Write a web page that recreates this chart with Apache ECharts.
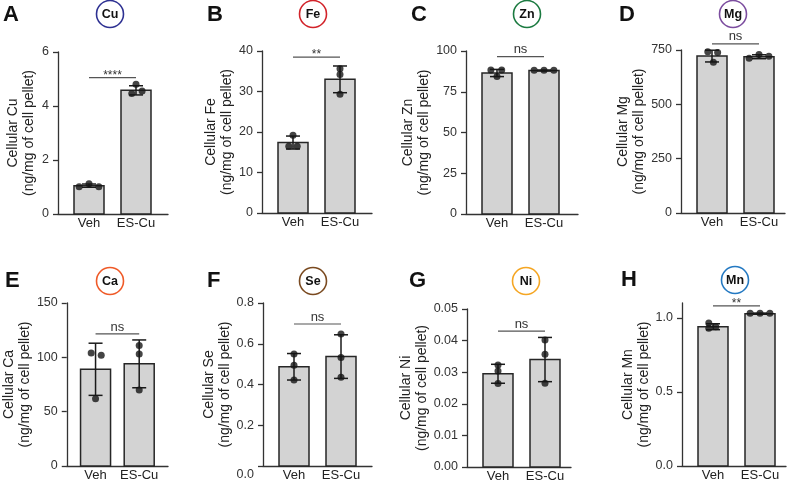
<!DOCTYPE html>
<html>
<head>
<meta charset="utf-8">
<script src="https://cdn.jsdelivr.net/npm/echarts@6/dist/echarts.min.js"></script>
<style>
  html, body { margin: 0; padding: 0; background: #fff; }
  #main { width: 791px; height: 485px; }
</style>
</head>
<body>
<div id="main"></div>
<script>
// groups and panels
var groups = ['Veh', 'ES-Cu'];
var panelLetters = ['A', 'B', 'C', 'D', 'E', 'F', 'G', 'H'];
var elements = ['Cu', 'Fe', 'Zn', 'Mg', 'Ca', 'Se', 'Ni', 'Mn'];
var elementColors = ['#2e3192', '#d2232a', '#1b7a40', '#7c4d9f', '#ef5a28', '#7a4a20', '#f5a623', '#2479c2'];

// mean per group
var meanVals = [
    [1.05, 4.58],
    [17.4, 33.0],
    [86.5, 88.0],
    [722, 719],
    [89, 94],
    [0.487, 0.537],
    [0.0295, 0.034],
    [0.94, 1.028]
];
// SD per group
var sdVals = [
    [0.06, 0.17],
    [1.6, 3.3],
    [2.2, 0.3],
    [27, 9],
    [24, 22],
    [0.065, 0.107],
    [0.003, 0.007],
    [0.02, 0.004]
];
// individual replicates
var dotVals = [
    [[1.01, 1.12, 1.01], [4.81, 4.46, 4.56]],
    [[19.2, 16.5, 16.5], [35.6, 34.2, 29.3]],
    [[88.3, 88.3, 84.4], [88.2, 88.2, 88.2]],
    [[742, 738, 694], [712, 729, 721]],
    [[104, 102, 62], [111, 103, 70]],
    [[0.55, 0.495, 0.422], [0.648, 0.532, 0.435]],
    [[0.0323, 0.0304, 0.0264], [0.0402, 0.0357, 0.0265]],
    [[0.965, 0.93, 0.94], [1.03, 1.03, 1.03]]
];
// horizontal spread of the replicates (category units)
var dotJitter = [
    [[-0.21, 0, 0.21], [0, -0.09, 0.13]],
    [[0, -0.09, 0.09], [0, 0, 0]],
    [[-0.13, 0.1, 0], [-0.21, 0, 0.21]],
    [[-0.09, 0.12, 0.03], [-0.21, 0, 0.21]],
    [[-0.1, 0.13, 0], [0, 0, 0]],
    [[0, 0, 0], [0, 0, 0]],
    [[0, 0, 0], [0, 0, 0]],
    [[-0.09, -0.09, 0.06], [-0.21, 0, 0.21]]
];
var sigLabels = ['****', '**', 'ns', 'ns', 'ns', 'ns', 'ns', '**'];
var sigLevels = [5.05, 38.5, 96.5, 778, 121.5, 0.697, 0.043, 1.08];

// y axes
var yMax = [6, 40, 100, 750, 150, 0.8, 0.05, 1.1];
var yStep = [2, 10, 25, 250, 50, 0.2, 0.01, 0.5];
var yDecimals = [0, 0, 0, 0, 0, 1, 2, 1];

var chartDom = document.getElementById('main');
var myChart = echarts.init(chartDom);
var FONT = 'Liberation Sans, Arial, Helvetica, sans-serif';

// layout of the 8 panels
var gridLeft = [58, 262, 466, 681, 59, 263, 467, 682];
var gridTop = [52, 51, 51, 50, 303, 303, 309, 303];
var gridHeight = [162, 162, 163, 163, 163, 163, 158, 163];
var gridWidth = [110, 110, 112, 104, 109, 109, 104, 104];
var nameGaps = [21, 22, 24, 29, 21, 23, 25, 30];
var letterPos = [[3, 14.5], [207, 14.5], [411, 14.5], [619, 14.5], [5, 281], [207, 281], [409, 281], [621, 280]];
var circlePos = [[110, 14], [313, 14], [527, 14], [733, 14], [110, 281], [313, 281], [526, 281], [735, 280]];
var BAND = 47; // px between the two bar centres
var FIRST = 31; // px from y axis to first bar centre

var grids = [], xAxes = [], yAxes = [], series = [], graphics = [];

function ticksFor(i) {
    var out = [];
    var n = Math.floor(yMax[i] / yStep[i] + 1e-9);
    for (var k = 0; k <= n; k++) out.push(Math.round(k * yStep[i] * 1e6) / 1e6);
    return out;
}

for (var i = 0; i < 8; i++) {
    grids.push({ left: gridLeft[i], top: gridTop[i], width: gridWidth[i], height: gridHeight[i] });
    var xMin = -FIRST / BAND;
    xAxes.push({
        type: 'value', gridIndex: i, min: xMin, max: xMin + gridWidth[i] / BAND,
        splitLine: { show: false },
        axisTick: { show: false },
        axisLine: { show: true, onZero: false, lineStyle: { color: '#333', width: 1.3 } },
        axisLabel: {
            customValues: [0, 1],
            formatter: function (v) { return groups[Math.round(v)]; },
            fontFamily: FONT, fontSize: 13, color: '#222', margin: 3
        }
    });
    var ticks = ticksFor(i);
    var dec = yDecimals[i];
    var isF = (i === 5);
    yAxes.push({
        type: 'value', gridIndex: i, min: 0, max: yMax[i],
        splitLine: { show: false },
        axisLine: { show: true, onZero: false, lineStyle: { color: '#333', width: 1.3 } },
        axisTick: { show: true, length: 5, customValues: ticks, lineStyle: { color: '#333', width: 1.3 } },
        axisLabel: {
            customValues: ticks,
            formatter: (function (d, f) {
                return function (v) {
                    var s = v.toFixed(d);
                    return (f && v === 0) ? '{low|' + s + '}' : s;
                };
            })(dec, isF),
            rich: { low: { padding: [18, 0, 0, 0], fontFamily: FONT, fontSize: 12.5, color: '#333' } },
            fontFamily: FONT, fontSize: 12.5, color: '#333', margin: 9
        },
        name: 'Cellular ' + elements[i] + '\n(ng/mg of cell pellet)',
        nameLocation: 'middle', nameRotate: 90, nameGap: nameGaps[i],
        nameTextStyle: { fontFamily: FONT, fontSize: 14, color: '#222', lineHeight: 16 }
    });

    // bars
    series.push({
        type: 'custom', xAxisIndex: i, yAxisIndex: i, z: 2,
        data: meanVals[i].map(function (m, g) { return [g, m]; }),
        renderItem: function (params, api) {
            var base = api.coord([api.value(0), 0]);
            var top = api.coord([api.value(0), api.value(1)]);
            return {
                type: 'rect',
                shape: { x: base[0] - 15, y: top[1], width: 30, height: base[1] - top[1] },
                style: { fill: '#d3d3d3', stroke: '#262626', lineWidth: 1.5 }
            };
        }
    });

    // error bars (mean +/- SD)
    series.push({
        type: 'custom', xAxisIndex: i, yAxisIndex: i, z: 3,
        data: meanVals[i].map(function (m, g) { return [g, m - sdVals[i][g], m + sdVals[i][g]]; }),
        renderItem: function (params, api) {
            var lo = api.coord([api.value(0), api.value(1)]);
            var hi = api.coord([api.value(0), api.value(2)]);
            var st = { stroke: '#1a1a1a', lineWidth: 1.5 };
            return {
                type: 'group',
                children: [
                    { type: 'line', shape: { x1: lo[0], y1: lo[1], x2: hi[0], y2: hi[1] }, style: st },
                    { type: 'line', shape: { x1: lo[0] - 7, y1: lo[1], x2: lo[0] + 7, y2: lo[1] }, style: st },
                    { type: 'line', shape: { x1: hi[0] - 7, y1: hi[1], x2: hi[0] + 7, y2: hi[1] }, style: st }
                ]
            };
        }
    });

    // replicates
    var pts = [];
    for (var g = 0; g < 2; g++) {
        for (var k = 0; k < dotVals[i][g].length; k++) {
            pts.push([g + dotJitter[i][g][k], dotVals[i][g][k]]);
        }
    }
    series.push({
        type: 'scatter', xAxisIndex: i, yAxisIndex: i, z: 4,
        symbolSize: 7, itemStyle: { color: '#151515' },
        data: pts, silent: true
    });

    // significance bracket
    series.push({
        type: 'custom', xAxisIndex: i, yAxisIndex: i, z: 5, clip: false,
        data: [[0, 1, sigLevels[i], i]],
        renderItem: function (params, api) {
            var p0 = api.coord([api.value(0), api.value(2)]);
            var p1 = api.coord([api.value(1), api.value(2)]);
            var label = sigLabels[api.value(3)];
            var stars = label.indexOf('*') >= 0;
            return {
                type: 'group',
                children: [
                    { type: 'line', shape: { x1: p0[0], y1: p0[1], x2: p1[0], y2: p1[1] }, style: { stroke: '#555', lineWidth: 1.2 } },
                    {
                        type: 'text', x: (p0[0] + p1[0]) / 2, y: p0[1] - (stars ? 2 : 7),
                        style: { text: label, font: (stars ? '12px ' : '13px ') + FONT, fill: '#333', align: 'center', verticalAlign: 'middle' }
                    }
                ]
            };
        }
    });

    // panel letter + element badge
    graphics.push({
        type: 'text', x: letterPos[i][0], y: letterPos[i][1],
        style: { text: panelLetters[i], font: 'bold 22px ' + FONT, fill: '#111', align: 'left', verticalAlign: 'middle' }
    });
    graphics.push({
        type: 'circle', shape: { cx: circlePos[i][0], cy: circlePos[i][1], r: 13.5 },
        style: { fill: '#fff', stroke: elementColors[i], lineWidth: 1.6 }
    });
    graphics.push({
        type: 'text', x: circlePos[i][0], y: circlePos[i][1] + 0.5,
        style: { text: elements[i], font: 'bold 12.5px ' + FONT, fill: '#111', align: 'center', verticalAlign: 'middle' }
    });
}

var option = {
    animation: false,
    backgroundColor: '#fff',
    grid: grids,
    xAxis: xAxes,
    yAxis: yAxes,
    series: series,
    graphic: { elements: graphics }
};

option && myChart.setOption(option);
</script>
</body>
</html>
